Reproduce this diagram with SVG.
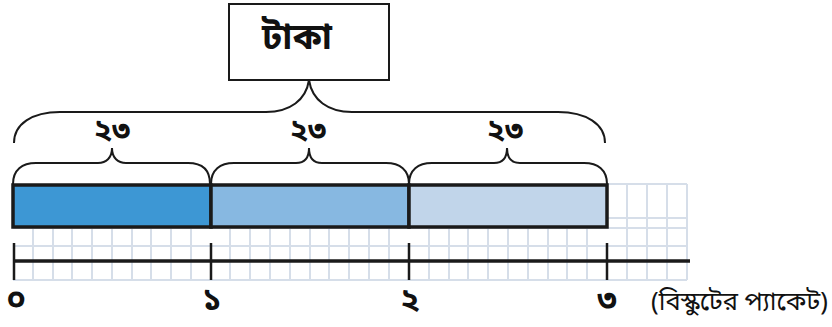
<svg xmlns="http://www.w3.org/2000/svg" width="832" height="327" viewBox="0 0 832 327">
<style>
.t{font-family:"Noto Sans Bengali","Noto Sans","DejaVu Sans",sans-serif;fill:#111}
.grid{stroke:#d6dee9;stroke-width:2;fill:none}
.brace{stroke:#1a1a1a;stroke-width:2;fill:none}
.bar{stroke:#1a1a1a;stroke-width:3.5}
.axis{stroke:#1a1a1a;fill:none}
.num{font-size:32px;font-weight:bold;text-anchor:middle}
.lab{font-size:30px;font-weight:bold;text-anchor:middle}
</style>
<rect width="832" height="327" fill="#fff"/>
<g id="grid">
<path class="grid" d="M13,228H687M13,246H687M13,280H687M607,184H687M607,218H687"/>
<path class="grid" d="M33,228V280M53,228V280M72,228V280M92,228V280M112,228V280M132,228V280M151,228V280M171,228V280M191,228V280M230,228V280M250,228V280M270,228V280M290,228V280M310,228V280M329,228V280M349,228V280M369,228V280M389,228V280M429,228V280M449,228V280M468,228V280M488,228V280M508,228V280M528,228V280M548,228V280M567,228V280M587,228V280M627,184V280M647,184V280M667,184V280M687,184V280"/>
</g>
<g id="bar1"><rect class="bar" x="13" y="185" width="198" height="42" fill="#3d97d4"/></g>
<g id="bar2"><rect class="bar" x="211" y="185" width="198" height="42" fill="#87b8e1"/></g>
<g id="bar3"><rect class="bar" x="409" y="185" width="198" height="42" fill="#c1d5ea"/></g>
<g id="axis">
<path class="axis" stroke-width="3.5" d="M13,261H690"/>
<path class="axis" stroke-width="2.5" d="M14,243V280M211,243V280M409,243V280M607,243V280"/>
<text class="t num" x="16" y="310">০</text>
<text class="t num" x="212" y="310">১</text>
<text class="t num" x="410" y="310">২</text>
<text class="t num" x="607" y="310">৩</text>
<text class="t" x="651" y="310" font-size="25.5">(বিস্কুটের প্যাকেট)</text>
</g>
<g id="box">
<rect x="229" y="4" width="160" height="76" fill="#fff" stroke="#1a1a1a" stroke-width="2"/>
<text class="t" x="297" y="49" font-size="36" font-weight="bold" text-anchor="middle">টাকা</text>
</g>
<g id="connectors">
<path class="brace" d="M14,143C14,124 32,112 60,112L266,112C290,112 306,100 309,80C312,100 328,112 352,112L558,112C586,112 605,124 605,143"/>
<path class="brace" d="M13,184C13,170 22,163 36,163L98,163C106,163 112,158 112,148C112,158 118,163 126,163L188,163C202,163 210,170 210,184"/>
<path class="brace" d="M211,184C211,170 220,163 234,163L296,163C304,163 309,158 309,148C309,158 314,163 322,163L386,163C400,163 409,170 409,184"/>
<path class="brace" d="M409,184C409,170 418,163 432,163L494,163C502,163 507,158 507,148C507,158 512,163 520,163L584,163C598,163 607,170 607,184"/>
</g>
<g id="labels">
<text class="t lab" x="112" y="140">২৩</text>
<text class="t lab" x="308" y="140">২৩</text>
<text class="t lab" x="505" y="140">২৩</text>
</g>
</svg>
